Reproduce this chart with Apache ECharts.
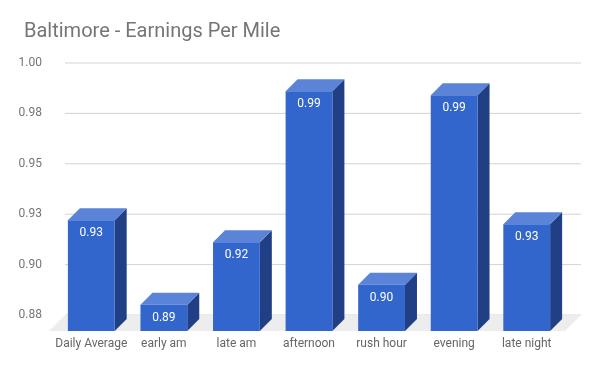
<!DOCTYPE html>
<html>
<head>
<meta charset="utf-8">
<script src="https://cdn.jsdelivr.net/npm/echarts@6/dist/echarts.min.js"></script>
<style>html,body{margin:0;padding:0;background:#fff}#chart{width:600px;height:371px}</style>
</head>
<body>
<div id="chart"></div>
<script>
var titleText = 'Baltimore - Earnings Per Mile';
var categories = ['Daily Average', 'early am', 'late am', 'afternoon', 'rush hour', 'evening', 'late night'];
var earnings = [0.928, 0.886, 0.917, 0.992, 0.896, 0.990, 0.926];
var yTickValues = [0.875, 0.9, 0.925, 0.95, 0.975, 1.0];
var yTickLabels = ['0.88', '0.90', '0.93', '0.95', '0.98', '1.00'];

var DEPTH = 12, FLOOR_GAP = 4;
var chart = echarts.init(document.getElementById('chart'), null, {renderer: 'canvas'});
var yMin = yTickValues[0], yMax = yTickValues[yTickValues.length - 1];

function barItem(params, api) {
  var idx = api.value(0);
  var val = api.value(1);
  var top = api.coord([idx, val]);
  var base = api.coord([idx, yMin]);
  var bw = api.size([1, 0])[0] * 0.645;
  var bx = top[0] - bw / 2;
  var byTop = top[1];
  var byBot = base[1] + FLOOR_GAP;
  var fx = bx - DEPTH, fTop = byTop + DEPTH, fBot = byBot + DEPTH;
  return {
    type: 'group',
    children: [
      {type: 'polygon', shape: {points: [[fx + bw, fTop], [bx + bw, byTop], [bx + bw, byBot], [fx + bw, fBot]]},
        style: {fill: '#213f85'}},
      {type: 'polygon', shape: {points: [[fx, fTop], [bx, byTop], [bx + bw, byTop], [fx + bw, fTop]]},
        style: {fill: '#5b84d8'}},
      {type: 'rect', shape: {x: fx, y: fTop, width: bw, height: fBot - fTop},
        style: {fill: '#3366cc'}},
      {type: 'text', style: {text: val.toFixed(2), x: fx + bw / 2, y: fTop + 13,
        fill: '#ffffff', font: '12px Roboto', align: 'center', verticalAlign: 'middle'}}
    ]
  };
}

// back wall grid lines, slightly wider than the category band area
function gridItem(params, api) {
  var cs = params.coordSys;
  var y = api.coord([0, api.value(1)])[1];
  return {
    type: 'line',
    shape: {x1: cs.x - 2, y1: y, x2: cs.x + cs.width + 6, y2: y},
    style: {stroke: '#d3d3d3', lineWidth: 1}
  };
}

function floorItem(params, api) {
  var cs = params.coordSys;
  var y = api.coord([0, yMin])[1];
  var l = cs.x - 2, r = cs.x + cs.width + 6;
  var d = DEPTH + FLOOR_GAP;
  return {
    type: 'polygon',
    shape: {points: [[l, y], [r, y], [r - d, y + d], [l - d, y + d]]},
    style: {fill: '#ededed'}
  };
}

chart.setOption({
  animation: false,
  backgroundColor: '#ffffff',
  title: {
    text: titleText, left: 19, top: 17,
    textStyle: {fontFamily: 'Roboto', fontSize: 20, fontWeight: 'normal', color: '#757575'}
  },
  grid: {left: 67, right: 25, top: 63, bottom: 56},
  xAxis: {
    type: 'category', data: categories,
    axisLine: {show: false}, axisTick: {show: false},
    axisLabel: {color: '#666666', fontFamily: 'Roboto', fontSize: 12, margin: 23, padding: [0, 24, 0, 0], interval: 0}
  },
  yAxis: {
    type: 'value', min: yMin, max: yMax, interval: 0.025,
    axisLine: {show: false}, axisTick: {show: false},
    splitLine: {show: false},
    axisLabel: {color: '#757575', fontFamily: 'Roboto', fontSize: 12, margin: 25,
      formatter: function (v) {
        var i = Math.round((v - yMin) / 0.025);
        return yTickLabels[i] !== undefined ? yTickLabels[i] : '';
      }}
  },
  series: [
    {type: 'custom', renderItem: gridItem, data: yTickValues.map(function (v) { return [0, v]; }), silent: true, z: 0, clip: false},
    {type: 'custom', renderItem: floorItem, data: [[0, yMin]], silent: true, z: 1, clip: false},
    {type: 'custom', renderItem: barItem, data: categories.map(function (c, i) { return [i, earnings[i]]; }), z: 2, clip: false}
  ]
});
</script>
</body>
</html>
